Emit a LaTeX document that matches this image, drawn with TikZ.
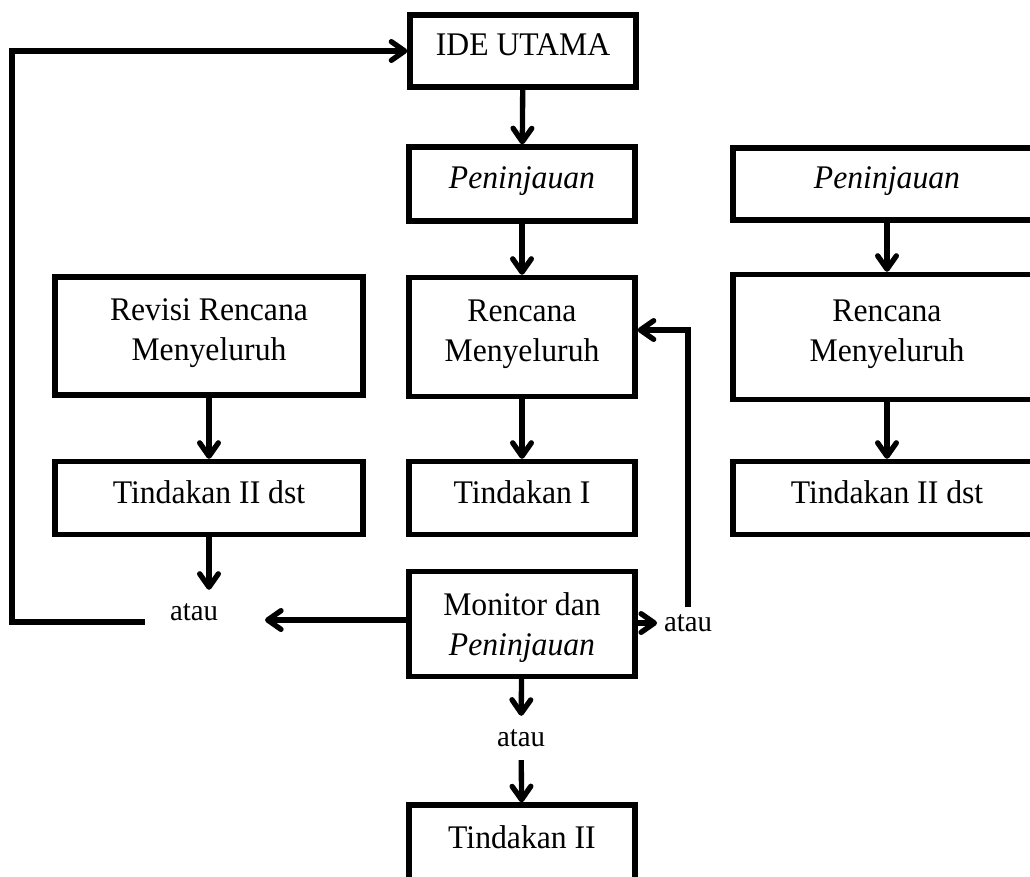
\documentclass[tikz,border=0pt]{standalone}
\usepackage{fontspec}
\setmainfont[FakeStretch=0.96]{Liberation Serif}
\usetikzlibrary{arrows.meta,positioning}

\tikzset{
  box/.style={draw, line width=4pt, rectangle, align=center, inner sep=0pt,
    text depth=9pt, font=\fontsize{24.75}{30}\selectfont},
  midbox/.style={box, minimum width=169.5pt},
  sidebox/.style={box, minimum width=231pt},
  lbl/.style={inner sep=0pt, font=\fontsize{22.5}{27}\selectfont},
  arr/.style={line width=4pt, -{Straight Barb[round, length=10pt, width=14pt]}}
}

\begin{document}
\begin{tikzpicture}[x=0.75pt, y=-0.75pt]
  \useasboundingbox (0,0) rectangle (1030,876);

  % middle column
  \node[midbox, minimum height=54pt] (ide) at (523,51) {IDE UTAMA};
  \node[midbox, minimum height=55.5pt] (penM) at (522,184) {\textit{Peninjauan}};
  \node[midbox, minimum height=89.25pt] (rencM) at (522,337) {Rencana\\Menyeluruh};
  \node[midbox, minimum height=54.75pt] (tindI) at (522,498) {Tindakan I};
  \node[midbox, minimum height=78.75pt, text depth=0pt] (mon) at (522,624) {Monitor dan\\\textit{Peninjauan}};
  \node[midbox, minimum height=57pt] (tindII) at (522,843) {Tindakan II};

  % right column
  \node[sidebox, minimum height=54pt] (penR) at (887,184) {\textit{Peninjauan}};
  \node[sidebox, minimum height=93.75pt] (rencR) at (887,337) {Rencana\\Menyeluruh};
  \node[sidebox, minimum height=54.75pt] (tindR) at (887,498) {Tindakan II dst};

  % left column
  \node[sidebox, minimum height=88.5pt] (rev) at (209,336) {Revisi Rencana\\Menyeluruh};
  \node[sidebox, minimum height=54.75pt] (tindL) at (209,498) {Tindakan II dst};

  % atau
  \node[lbl] (atauL) at (194,612) {atau};
  \node[lbl] (atauR) at (688,623) {atau};
  \node[lbl] (atauB) at (521,738) {atau};

  \coordinate (tipL) at (265,620);
  \coordinate (startL) at (145,622);
  \coordinate (cornerL) at (12,51);

  \draw[arr] (ide) -- (penM);
  \draw[arr] (penM) -- (rencM);
  \draw[arr] (rencM) -- (tindI);
  \draw[arr] (penR) -- (rencR);
  \draw[arr] (rencR) -- (tindR);
  \draw[arr] (rev) -- (tindL);
  \draw[arr, shorten >=10pt] (tindL.south) -- (tindL.south |- atauL.north);
  \draw[arr, shorten >=10pt] (mon) -- (atauB);
  \draw[arr, shorten <=10pt] (atauB) -- (tindII);
  \draw[arr] (mon.west |- tipL) -- (tipL);
  \draw[arr, shorten >=5pt] (mon.east |- atauR) -- (atauR.west);
  \draw[arr, shorten <=5pt] (atauR.north) |- ([yshift=5.25pt]rencM.east);
  \draw[arr] (startL) -| (cornerL) -- (ide.west);
\end{tikzpicture}
\end{document}
